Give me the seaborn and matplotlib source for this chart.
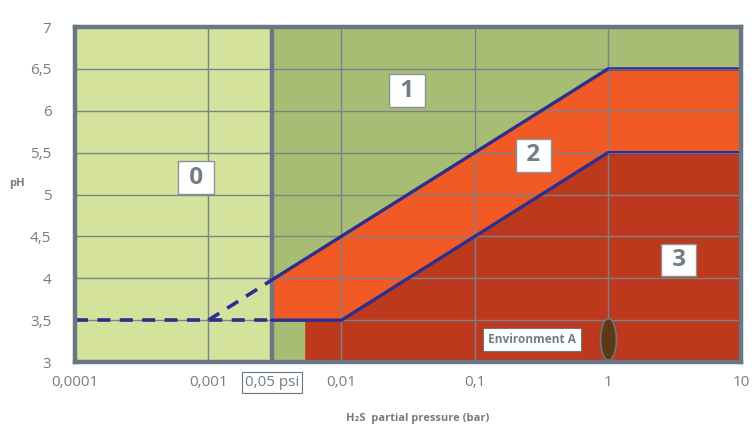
import numpy as np
import pandas as pd
import matplotlib
matplotlib.use('Agg')
import matplotlib.pyplot as plt
from matplotlib.path import Path
from matplotlib.transforms import Affine2D
import seaborn as sns

# datos del diagrama (pH vs presion parcial de H2S)
x_ticks = [0.0001, 0.001, 0.003, 0.01, 0.1, 1, 10]
x_labels = ['0,0001', '0,001', '0,05 psi', '0,01', '0,1', '1', '10']
y_ticks = [3, 3.5, 4, 4.5, 5, 5.5, 6, 6.5, 7]
y_labels = ['3', '3,5', '4', '4,5', '5', '5,5', '6', '6,5', '7']

limite_psi = 0.003          # 0,05 psi en bar
inicio_region3 = 0.0053     # la zona roja empieza un poco a la derecha

# linea superior (region 1 / region 2)
sup_x = [0.003, 1, 10]
sup_ph = [3.98, 6.5, 6.5]
# linea inferior (region 2 / region 3)
inf_x = [0.003, 0.01, 1, 10]
inf_ph = [3.5, 3.5, 5.5, 5.5]
# mismo borde superior evaluado en inf_x, para rellenar la region 2
sup_en_inf = [3.98, 4.5, 6.5, 6.5]
# borde de la region 3
reg3_x = [0.0053, 0.01, 1, 10]
reg3_ph = [3.5, 3.5, 5.5, 5.5]
# lineas discontinuas en la region 0
disc_x = [0.0001, 0.003]
disc_ph = [3.5, 3.5]
diag_x = [0.001, 0.003]
diag_ph = [3.5, 3.98]

# etiquetas de region
regiones = ['0', '1', '2', '3']
reg_x = [0.00081, 0.031, 0.275, 3.4]
reg_ph = [5.2, 6.24, 5.47, 4.22]

env_x, env_ph = 1, 3.27
env_lbl_x, env_lbl_ph = 0.27, 3.27

# colores
verde_claro = '#d4e29c'
verde = '#a7bd73'
naranja = '#f15a24'
rojo = '#bd391d'
azul = '#2d2f8f'
gris = '#6b7780'
gris_txt = '#737d86'

sns.set_theme(style='white')
plt.rcParams['font.family'] = ['Open Sans', 'DejaVu Sans']

fig, ax = plt.subplots(figsize=(7.54, 4.29), dpi=100)
fig.subplots_adjust(left=0.0995, right=0.983, bottom=0.156, top=0.937)

ax.set_xscale('log')
ax.set_xlim(x_ticks[0], x_ticks[-1])
ax.set_ylim(y_ticks[0], y_ticks[-1])

# regiones
ax.axvspan(x_ticks[0], limite_psi, color=verde_claro, lw=0, zorder=0.5)
ax.axvspan(limite_psi, x_ticks[-1], color=verde, lw=0, zorder=0.5)
ax.fill_between(inf_x, inf_ph, sup_en_inf, color=naranja, lw=0, zorder=0.6)
ax.fill_between(reg3_x, y_ticks[0], reg3_ph, color=rojo, lw=0, zorder=0.6)

# rejilla
ax.set_xticks(x_ticks)
ax.set_xticklabels(x_labels)
ax.set_yticks(y_ticks)
ax.set_yticklabels(y_labels)
ax.minorticks_off()
ax.set_axisbelow('line')
ax.grid(True, color='#7a838b', lw=1.0)
ax.xaxis.get_gridlines()[2].set_visible(False)
ax.axvline(limite_psi, color=gris, lw=3.2, zorder=1.8)

# lineas limite
sns.lineplot(x=sup_x, y=sup_ph, ax=ax, color=azul, lw=2.4, zorder=3)
sns.lineplot(x=inf_x, y=inf_ph, ax=ax, color=azul, lw=2.4, zorder=3)
sns.lineplot(x=sup_x[1:], y=sup_ph[1:], ax=ax, color='#6f72b8', lw=0.6, zorder=3.1)
sns.lineplot(x=inf_x[2:], y=inf_ph[2:], ax=ax, color='#6f72b8', lw=0.6, zorder=3.1)
sns.lineplot(x=disc_x, y=disc_ph, ax=ax, color=azul, lw=2.6, zorder=3,
             linestyle=(0, (3.6, 2.6)))
sns.lineplot(x=diag_x, y=diag_ph, ax=ax, color=azul, lw=2.6, zorder=3,
             linestyle=(0, (3.6, 2.6)))

# entorno A (elipse)
elipse = Path.unit_circle().transformed(Affine2D().scale(0.38, 1))
ax.scatter([env_x], [env_ph], marker=elipse, s=900, color='#5c3a17',
           edgecolor=gris, linewidth=1.2, zorder=4)
ax.text(env_lbl_x, env_lbl_ph, 'Environment A', ha='center', va='center',
        fontsize=8.6, fontweight='bold', color=gris_txt, zorder=5,
        bbox=dict(boxstyle='square,pad=0.4', facecolor='white',
                  edgecolor=gris, linewidth=0.8))

for r, xx, yy in zip(regiones, reg_x, reg_ph):
    ax.text(xx, yy, ' ' + r + ' ', ha='center', va='center', fontsize=17.5,
            fontweight='bold', color=gris_txt, zorder=5,
            bbox=dict(boxstyle='square,pad=0.18', facecolor='white',
                      edgecolor='#8a939a', linewidth=1.0))

# ejes
for s in ax.spines.values():
    s.set_visible(True)
    s.set_color(gris)
    s.set_linewidth(3.2)
    s.set_zorder(6)

ax.tick_params(axis='both', length=0, labelsize=11, labelcolor=gris_txt)
ax.tick_params(axis='y', pad=17)
ax.tick_params(axis='x', pad=9)
ax.get_xticklabels()[2].set_bbox(dict(boxstyle='square,pad=0.2', facecolor='white',
                                      edgecolor=gris, linewidth=0.8))

ax.set_xlabel('H₂S  partial pressure (bar)', fontsize=8, fontweight='bold',
              color=gris_txt)
ax.xaxis.set_label_coords(0.515, -0.153)
ax.set_ylabel('pH', fontsize=8, fontweight='bold', color=gris_txt,
              rotation=0, va='center', ha='center')
ax.yaxis.set_label_coords(-0.087, 0.533)

plt.savefig('out.png', dpi=100)
plt.close()
